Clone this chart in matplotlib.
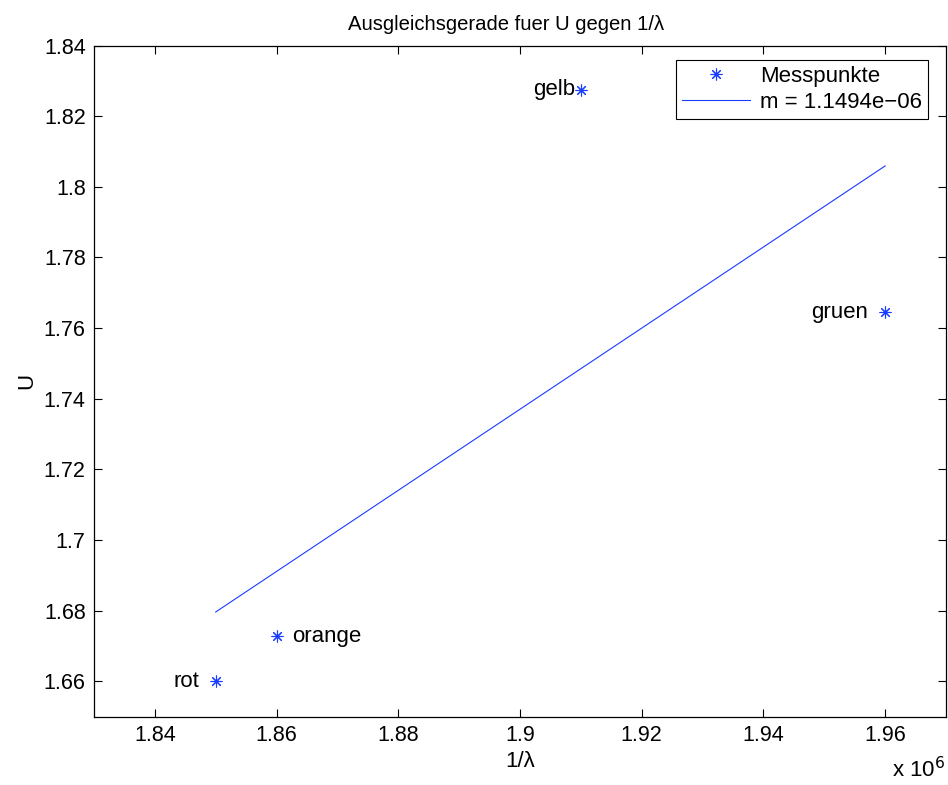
import matplotlib
matplotlib.use("Agg")
import matplotlib.pyplot as plt
from matplotlib.ticker import FuncFormatter, MultipleLocator
import matplotlib.lines as mlines

plt.rcParams['font.family'] = ['Liberation Sans', 'DejaVu Sans']

# data
inv_lambda = [1.85e6, 1.86e6, 1.91e6, 1.96e6]
voltage = [1.660, 1.6727, 1.8275, 1.7645]
names = ['rot', 'orange', 'gelb', 'gruen']
fit_x = [1.85e6, 1.96e6]
fit_y = [1.6796, 1.8059]
fit_label = 'm = 1.1494e\u221206'

fig = plt.figure(figsize=(9.48, 7.85), dpi=100)
ax = fig.add_axes([94/948, 1-716.5/785, (946-94)/948, (716.5-45.5)/785])

blue = '#1a3cff'
ast = (8, 2, 0)
ms = 8.5
ax.plot(inv_lambda, voltage, linestyle='none', marker=ast, markersize=ms,
        markeredgewidth=0.8, color=blue)
ax.plot(fit_x, fit_y, color=blue, linewidth=0.8)

offsets = {'rot': (-12, 'right'), 'orange': (11, 'left'), 'gelb': (-4, 'right'), 'gruen': (-12, 'right')}
for x, y, n in zip(inv_lambda, voltage, names):
    dx, ha = offsets[n]
    ax.annotate(n, (x, y), xytext=(dx, 0), textcoords='offset points',
                ha=ha, va='center', fontsize=16)

ax.set_xlim(1.83e6, 1.97e6)
ax.set_ylim(1.65, 1.84)
ax.xaxis.set_major_locator(MultipleLocator(0.02e6))
ax.yaxis.set_major_locator(MultipleLocator(0.02))
ax.xaxis.set_major_formatter(FuncFormatter(lambda v, p: '%g' % round(v / 1e6, 4)))
ax.yaxis.set_major_formatter(FuncFormatter(lambda v, p: '%g' % round(v, 4)))
ax.tick_params(direction='in', top=True, right=True, length=6, width=0.8, labelsize=15.5, pad=6)
for s in ax.spines.values():
    s.set_linewidth(0.9)

ax.set_title('Ausgleichsgerade fuer U gegen 1/\u03bb', fontsize=14.6, pad=11,
             x=(506.5-94)/852)
ax.set_xlabel('1/\u03bb', fontsize=16, labelpad=4)
ax.set_ylabel('U', fontsize=16, labelpad=5)
fig.text(945/948, 1-777/785, 'x 10$^{6}$', ha='right', va='baseline', fontsize=16)

h1 = mlines.Line2D([], [], linestyle='none', marker=ast, markersize=ms, markeredgewidth=0.8, color=blue)
h2 = mlines.Line2D([], [], color=blue, linewidth=0.8)
leg = ax.legend([h1, h2], ['Messpunkte', fit_label], loc='upper right', fontsize=16,
                fancybox=False, edgecolor='black', framealpha=1, borderpad=0.25,
                handlelength=3.1, handletextpad=0.45, labelspacing=0.25,
                borderaxespad=0, bbox_to_anchor=((928-94)/852, 1-(60-45.5)/671))
leg.get_frame().set_linewidth(0.8)

fig.savefig('out.png', dpi=100)
